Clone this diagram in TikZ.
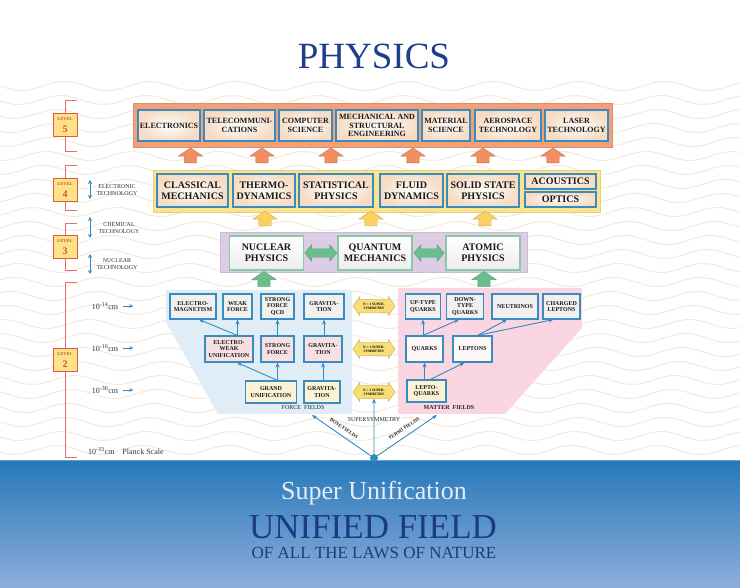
\documentclass[tikz,border=0pt]{standalone}
\usepackage{fontspec}
\setmainfont{Liberation Serif}
\usetikzlibrary{shapes.arrows,arrows.meta,calc}
\definecolor{titleblue}{RGB}{30,62,140}
\definecolor{wavec}{RGB}{243,232,218}
\definecolor{bandtop}{RGB}{38,120,186}
\definecolor{bandbot}{RGB}{142,174,218}
\definecolor{orbox}{RGB}{243,160,120}
\definecolor{orarrow}{RGB}{242,142,98}
\definecolor{yelbox}{RGB}{252,228,140}
\definecolor{yelarrow}{RGB}{250,208,96}
\definecolor{purbox}{RGB}{220,204,228}
\definecolor{grarrow}{RGB}{104,190,140}
\definecolor{grbord}{RGB}{136,200,170}
\definecolor{bbord}{RGB}{58,140,190}
\definecolor{peach}{RGB}{246,220,196}
\definecolor{forcebg}{RGB}{224,237,247}
\definecolor{matterbg}{RGB}{249,214,226}
\definecolor{rowa}{RGB}{240,240,238}
\definecolor{rowb}{RGB}{247,224,226}
\definecolor{rowc}{RGB}{251,243,212}
\definecolor{ssfill}{RGB}{246,222,120}
\definecolor{ssdraw}{RGB}{214,186,80}
\definecolor{arrblue}{RGB}{52,138,192}
\definecolor{brkred}{RGB}{228,110,110}
\definecolor{lvlyel}{RGB}{253,226,138}
\definecolor{lvlred}{RGB}{224,88,64}
\definecolor{supc}{RGB}{228,236,246}
\definecolor{unifc}{RGB}{28,58,134}
\tikzset{
  bx/.style={draw=bbord, line width=1.3pt, inner sep=0pt, align=center, text=black!90},
  b5/.style={bx, inner color=white, outer color=peach, font=\bfseries\fontsize{8}{8.6}\selectfont, minimum height=31pt},
  b4/.style={bx, inner color=white, outer color=peach, font=\bfseries\fontsize{10}{11}\selectfont, minimum height=33pt},
  b4s/.style={b4, minimum height=15pt, minimum width=71pt},
  b3/.style={bx, draw=grbord, top color=white, bottom color=gray!14, font=\bfseries\fontsize{10}{11}\selectfont, minimum width=74pt, minimum height=34pt},
  b2/.style={bx, line width=1.1pt, font=\bfseries\fontsize{6}{6.4}\selectfont},
  upor/.style={single arrow, rotate=90, draw=orarrow!80!black, fill=orarrow, line width=0.4pt, minimum height=15pt, minimum width=24pt, single arrow head extend=6pt, single arrow tip angle=112, inner xsep=0pt, inner ysep=6pt},
  upyel/.style={upor, draw=yelarrow!85!black, fill=yelarrow},
  upgr/.style={upor, draw=grarrow!85!black, fill=grarrow},
  dbg/.style={double arrow, draw=grarrow!85!black, fill=grarrow, line width=0.4pt, minimum height=32pt, minimum width=16pt, double arrow head extend=4pt, double arrow tip angle=100, inner xsep=0pt, inner ysep=4pt},
  ss/.style={double arrow, draw=ssdraw, fill=ssfill, line width=0.5pt, minimum height=42pt, minimum width=19pt, double arrow head extend=2pt, double arrow tip angle=110, inner sep=0.5pt, align=center, font=\bfseries\fontsize{3.5}{3.9}\selectfont},
  barr/.style={draw=arrblue, line width=0.9pt, -{Stealth[length=5pt,width=4pt]}},
  tech/.style={draw=arrblue, line width=0.9pt, {Stealth[length=4pt,width=4pt]}-{Stealth[length=4pt,width=4pt]}},
  brk/.style={draw=brkred, line width=1pt},
  lvl/.style={fill=lvlyel, draw=lvlred, line width=1pt, minimum width=24pt, minimum height=23pt, inner sep=0pt, align=center, text=lvlred!90!black, font=\bfseries},
  techlab/.style={align=center, font=\fontsize{6}{6.6}\selectfont, text=black!80, inner sep=0pt},
  scl/.style={font=\fontsize{8}{9}\selectfont, text=black!80, inner sep=0pt},
  lab/.style={font=\fontsize{6}{7}\selectfont, text=black!85, inner sep=0pt},
}
\begin{document}
\begin{tikzpicture}[x=1pt,y=-1pt]
\useasboundingbox (0,0) rectangle (740,588);
\fill[white] (0,0) rectangle (740,588);
% wavy background
\foreach \k in {0,...,26}{
  \draw[wavec, line width=0.9pt] plot[domain=0:740, samples=80, smooth] (\x,{86+14*\k+4.5*sin(4.2*\x+15*\k)});
}
% blue band
\shade[top color=bandtop, bottom color=bandbot] (0,460) rectangle (740,588);
\draw[arrblue!80!white, line width=1pt] (0,460) -- (740,460);

% title
\node[font=\fontsize{37}{37}\selectfont, text=titleblue] (title) at (374,56) {PHYSICS};

% ---------- Level 5
\node[fill=orbox, draw=orbox!90!black, line width=0.5pt, minimum width=479pt, minimum height=44pt, inner sep=0pt] (lev5box) at (372.5,125) {};
\node[b5, minimum width=62pt] (elec) at (169,125.5) {ELECTRONICS};
\node[b5, minimum width=71pt] (tele) at (239.5,125.5) {TELECOMMUNI-\\CATIONS};
\node[b5, minimum width=53pt] (comp) at (305.5,125.5) {COMPUTER\\SCIENCE};
\node[b5, minimum width=82pt] (mech) at (377,125.5) {MECHANICAL AND\\STRUCTURAL\\ENGINEERING};
\node[b5, minimum width=48pt] (mat) at (446,125.5) {MATERIAL\\SCIENCE};
\node[b5, minimum width=66pt] (aero) at (508,125.5) {AEROSPACE\\TECHNOLOGY};
\node[b5, minimum width=63pt] (laser) at (576.5,125.5) {LASER\\TECHNOLOGY};

% orange arrows
\node[upor] (oa1) at (190.5,157.5) {};
\node[upor] (oa2) at (262,157.5) {};
\node[upor] (oa3) at (331,157.5) {};
\node[upor] (oa4) at (413,157.5) {};
\node[upor] (oa5) at (483,157.5) {};
\node[upor] (oa6) at (553,157.5) {};

% ---------- Level 4
\node[fill=yelbox, draw=yelbox!90!black, line width=0.5pt, minimum width=447pt, minimum height=42pt, inner sep=0pt] (lev4box) at (376.5,191) {};
\node[b4, minimum width=71pt] (class) at (192.5,190.5) {CLASSICAL\\MECHANICS};
\node[b4, minimum width=62pt] (thermo) at (264,190.5) {THERMO-\\DYNAMICS};
\node[b4, minimum width=74pt] (stat) at (336,190.5) {STATISTICAL\\PHYSICS};
\node[b4, minimum width=63pt] (fluid) at (411.5,190.5) {FLUID\\DYNAMICS};
\node[b4, minimum width=72pt] (solid) at (483,190.5) {SOLID STATE\\PHYSICS};
\node[b4s] (acou) at (560.5,181.5) {ACOUSTICS};
\node[b4s] (optics) at (560.5,199.5) {OPTICS};

% yellow arrows
\node[upyel] (ya1) at (265,220.5) {};
\node[upyel] (ya2) at (371,220.5) {};
\node[upyel] (ya3) at (485,220.5) {};

% ---------- Level 3
\node[fill=purbox, draw=purbox!92!black, line width=0.5pt, minimum width=307pt, minimum height=40pt, inner sep=0pt] (lev3box) at (373.5,252) {};
\node[b3] (nuc) at (266.5,253) {NUCLEAR\\PHYSICS};
\node[b3] (qm) at (375,253) {QUANTUM\\MECHANICS};
\node[b3] (atom) at (483,253) {ATOMIC\\PHYSICS};
\node[dbg] (dg1) at ($(nuc.east)!0.5!(qm.west)$) {};
\node[dbg, minimum height=30pt] (dg2) at ($(qm.east)!0.5!(atom.west)$) {};

% green arrows
\node[upgr] (ga1) at (264,281) {};
\node[upgr] (ga2) at (484,281) {};

% ---------- Level 2 regions
\fill[forcebg] (166,290) -- (352,290) -- (352,414) -- (218,414) -- (166,322) -- cycle;
\fill[matterbg] (398,288) -- (582,288) -- (582,328) -- (505,414) -- (398,414) -- cycle;

% force boxes
\node[b2, fill=rowa, minimum width=46pt, minimum height=25pt] (em) at (193,306.5) {ELECTRO-\\MAGNETISM};
\node[b2, fill=rowa, minimum width=29pt, minimum height=25pt] (weak) at (237.5,306.5) {WEAK\\FORCE};
\node[b2, fill=rowa, minimum width=33pt, minimum height=25pt] (qcd) at (277.5,306.5) {STRONG\\FORCE\\QCD};
\node[b2, fill=rowa, minimum width=40pt, minimum height=25pt] (grava) at (324,306.5) {GRAVITA-\\TION};
\node[b2, fill=rowb, minimum width=48pt, minimum height=26pt] (ew) at (229,349) {ELECTRO-\\WEAK\\UNIFICATION};
\node[b2, fill=rowb, minimum width=33pt, minimum height=26pt] (strong) at (277.5,349) {STRONG\\FORCE};
\node[b2, fill=rowb, minimum width=38pt, minimum height=26pt] (gravb) at (323,349) {GRAVITA-\\TION};
\node[b2, fill=rowc, minimum width=51pt, minimum height=22pt] (grand) at (271,392) {GRAND\\UNIFICATION};
\node[b2, fill=rowc, minimum width=36pt, minimum height=22pt] (gravc) at (322,392) {GRAVITA-\\TION};

% supersymmetry
\node[ss] (ss1) at (374,306) {N = 1 SUPER-\\SYMMETRY};
\node[ss] (ss2) at (374,349) {N = 1 SUPER-\\SYMMETRY};
\node[ss] (ss3) at (374,392) {N = 1 SUPER-\\SYMMETRY};

% matter boxes
\node[b2, fill=rowa, minimum width=35pt, minimum height=25pt] (up) at (423,306.5) {UP-TYPE\\QUARKS};
\node[b2, fill=rowa, minimum width=37pt, minimum height=25pt] (down) at (465,306.5) {DOWN-\\TYPE\\QUARKS};
\node[b2, fill=rowa, minimum width=46pt, minimum height=25pt] (neut) at (515,306.5) {NEUTRINOS};
\node[b2, fill=rowa, minimum width=37pt, minimum height=25pt] (charged) at (561.5,306.5) {CHARGED\\LEPTONS};
\node[b2, fill=white!70!rowb, minimum width=37pt, minimum height=26pt] (quarks) at (424.5,349) {QUARKS};
\node[b2, fill=white!70!rowb, minimum width=39pt, minimum height=26pt] (leptons) at (472.5,349) {LEPTONS};
\node[b2, fill=rowc, minimum width=39pt, minimum height=22pt] (lq) at (426.5,391) {LEPTO-\\QUARKS};

% force arrows
\draw[barr] (weak.south |- ew.north) -- (weak.south);
\draw[barr] (weak.south |- ew.north) -- ([xshift=6pt]em.south);
\draw[barr] (strong.north) -- (qcd.south);
\draw[barr] (gravb.north -| grava.south) -- (grava.south);
\draw[barr] (strong.south |- grand.north) -- (strong.south);
\draw[barr] (strong.south |- grand.north) -- ([xshift=8pt]ew.south);
\draw[barr] (gravc.north -| gravb.south) -- (gravb.south);

% matter arrows
\draw[barr] (up.south |- quarks.north) -- (up.south);
\draw[barr] (up.south |- quarks.north) -- ([xshift=-6pt]down.south);
\draw[barr] ([xshift=5pt]leptons.north) -- ([xshift=-8pt]neut.south);
\draw[barr] ([xshift=5pt]leptons.north) -- ([xshift=-8pt]charged.south);
\draw[barr] (lq.north -| quarks.south) -- (quarks.south);
\draw[barr] ([xshift=4pt]lq.north) -- ([xshift=-8pt]leptons.south);

% field labels
\node[lab] (ff) at (303,408) {FORCE\ \ FIELDS};
\node[lab, font=\bfseries\fontsize{6}{7}\selectfont] (mf) at (449,408) {MATTER\ \ FIELDS};

% bottom fan
\node[circle, fill=arrblue, inner sep=0pt, minimum size=8pt] (dot) at (374,458) {};
\coordinate (boseend) at (312,415);
\coordinate (fermiend) at (437,415);
\draw[barr] (dot) -- (boseend);
\draw[barr] (dot) -- (ss3.south);
\draw[barr] (dot) -- (fermiend);
\node[lab, font=\bfseries\fontsize{5}{6}\selectfont, rotate=-34] (bose) at (344,428.5) {BOSE FIELDS};
\node[lab, font=\bfseries\fontsize{5}{6}\selectfont, rotate=34] (fermi) at (404,428.5) {FERMI FIELDS};
\node[lab, font=\fontsize{6}{7}\selectfont] (susy) at (374,419.5) {SUPERSYMMETRY};

% ---------- left scale
\draw[brk] (77,101) -- (65,101) -- (65,152) -- (77,152);
\draw[brk] (77,166) -- (65,166) -- (65,211) -- (77,211);
\draw[brk] (77,224) -- (65,224) -- (65,271) -- (77,271);
\draw[brk] (77,283) -- (65,283) -- (65,457) -- (77,457);
\node[lvl] (lv5) at (65,125.5) {\fontsize{4.5}{5}\selectfont LEVEL\\\fontsize{10}{10}\selectfont 5};
\node[lvl] (lv4) at (65,190) {\fontsize{4.5}{5}\selectfont LEVEL\\\fontsize{10}{10}\selectfont 4};
\node[lvl] (lv3) at (65,247) {\fontsize{4.5}{5}\selectfont LEVEL\\\fontsize{10}{10}\selectfont 3};
\node[lvl] (lv2) at (65,360) {\fontsize{4.5}{5}\selectfont LEVEL\\\fontsize{10}{10}\selectfont 2};

\coordinate (t1a) at (90,180); \coordinate (t1b) at (90,199);
\coordinate (t2a) at (90,217); \coordinate (t2b) at (90,238);
\coordinate (t3a) at (90,254); \coordinate (t3b) at (90,274);
\draw[tech] (t1a) -- (t1b);
\draw[tech] (t2a) -- (t2b);
\draw[tech] (t3a) -- (t3b);
\node[techlab] (et) at (117,190) {ELECTRONIC\\TECHNOLOGY};
\node[techlab] (ct) at (119,228) {CHEMICAL\\TECHNOLOGY};
\node[techlab] (nt) at (117,264) {NUCLEAR\\TECHNOLOGY};

\node[scl] (s14) at (105,306) {10\textsuperscript{-14}cm};
\node[scl] (s16) at (105,348) {10\textsuperscript{-16}cm};
\node[scl] (s30) at (105,390) {10\textsuperscript{-30}cm};
\draw[barr, line width=0.8pt, -{Stealth[length=4pt,width=3.5pt]}] ([xshift=5pt]s14.east) -- ([xshift=15pt]s14.east);
\draw[barr, line width=0.8pt, -{Stealth[length=4pt,width=3.5pt]}] ([xshift=5pt]s16.east) -- ([xshift=15pt]s16.east);
\draw[barr, line width=0.8pt, -{Stealth[length=4pt,width=3.5pt]}] ([xshift=5pt]s30.east) -- ([xshift=15pt]s30.east);
\node[scl, anchor=west] (planck) at (88,451) {10\textsuperscript{-33}cm\quad Planck Scale};

% ---------- band text
\node[font=\fontsize{26}{26}\selectfont, text=supc] (su) at (374,493) {Super Unification};
\node[font=\fontsize{35}{35}\selectfont, text=unifc] (uf) at (373,527) {UNIFIED FIELD};
\node[font=\fontsize{17}{17}\selectfont, text=unifc] (oal) at (374,553) {OF ALL THE LAWS OF NATURE};
\end{tikzpicture}
\end{document}
